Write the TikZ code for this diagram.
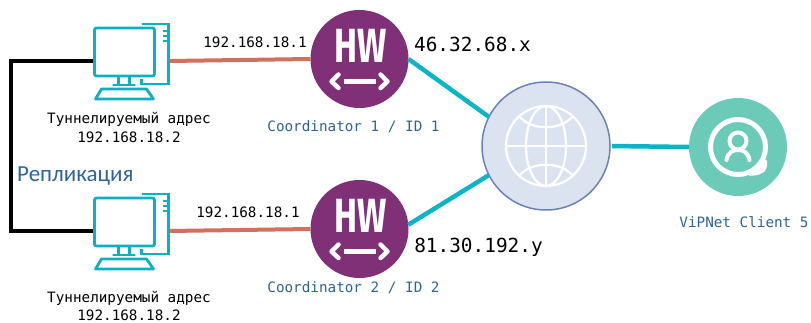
\documentclass[tikz,border=0pt]{standalone}
\usepackage{fontspec}
\setmainfont{DejaVu Sans Mono}
\newfontfamily\rplfont{Carlito}
\newfontfamily\hwfont[Scale=1]{Fira Sans}
\definecolor{hwpurple}{HTML}{7F3076}
\definecolor{redline}{HTML}{D0705F}
\definecolor{tealline}{HTML}{0BB4C6}
\definecolor{pcteal}{HTML}{0CB0BE}
\definecolor{globefill}{HTML}{DCE3F0}
\definecolor{globeedge}{HTML}{6A82B8}
\definecolor{clientgreen}{HTML}{6CCBB8}
\definecolor{bluetext}{HTML}{2F6496}
\tikzset{
  lbl/.style={anchor=base,inner sep=0pt,font=\fontsize{14.3}{16}\selectfont,text=black},
  lblblue/.style={lbl,text=bluetext},
  biglbl/.style={anchor=base,inner sep=0pt,font=\fontsize{19.4}{22}\selectfont,text=black},
  pcbox/.style={rectangle,minimum width=75pt,minimum height=75pt,inner sep=0pt,outer sep=0pt},
  hwnode/.style={circle,fill=hwpurple,minimum size=98pt,inner sep=0pt,outer sep=0pt},
  pcline/.style={pcteal,line width=2.8pt},
  redl/.style={redline,line width=4pt},
  teall/.style={tealline,line width=4.5pt},
  blackl/.style={black,line width=4pt},
  whitel/.style={white,line width=2.2pt},
  pc/.pic={
    \draw[pcline,rounded corners=2pt] (-37,-33) rectangle (23,15);
    \draw[pcline] (10,-37) -- (37,-37) -- (37,23) -- (10,23) -- (10,18);
    \draw[pcline,line width=1.8pt] (31,-30) -- (37,-30) (31,-25) -- (37,-25) (31,-20) -- (37,-20);
    \draw[pcline] (-13,15) -- (-13,23) (-2,15) -- (-2,23);
    \draw[pcline,line cap=round] (-18,24) -- (3,24);
    \draw[pcline,line join=round] (-30,28) -- (15,28) -- (22,38) -- (-36,38) -- cycle;
  },
  hwicon/.pic={
    \node[inner sep=0pt,text=white,xscale=.72,font=\hwfont\bfseries\fontsize{48}{50}\selectfont] (-HW) at (1.5,-13) {HW};
    \draw[white,line width=5pt] (-16,22.5) -- (16,22.5);
    \draw[white,line width=4.5pt,line cap=round,line join=round] (-21,15.5) -- (-28,22.5) -- (-21,29) (21,15.5) -- (28,22.5) -- (21,29);
  }
}
\begin{document}
\begin{tikzpicture}[x=1pt,y=-1pt]
\useasboundingbox (0,0) rectangle (811,323);
% nodes
\node[pcbox] (pc1) at (131.5,61) {};
\node[pcbox] (pc2) at (131.5,231) {};
\node[hwnode] (hw1) at (359.5,59) {};
\node[hwnode] (hw2) at (359.5,229) {};
\node[circle,fill=globefill,draw=globeedge,line width=1.5pt,minimum size=128pt,inner sep=0pt,outer sep=0pt] (globe) at (546,146) {};
\node[circle,fill=clientgreen,minimum size=98pt,inner sep=0pt,outer sep=0pt] (client) at (738,147) {};
\coordinate (rt) at (11,61);
\coordinate (rb) at (11,231);
% connectors
\draw[blackl,line join=miter] (pc1.west) -- (rt) -- (rb) -- (pc2.west);
\draw[redl] (pc1.east) -- (hw1.west);
\draw[redl] (pc2.east) -- (hw2.west);
\draw[teall] (hw1.east) -- (globe.153);
\draw[teall] (hw2.5) -- (globe.207);
\draw[teall,shorten <=2pt] (globe.east) -- (client.west);
% icons
\pic at (pc1.center) {pc};
\pic at (pc2.center) {pc};
\pic (a) at (hw1.center) {hwicon};
\pic (b) at (hw2.center) {hwicon};
% globe
\begin{scope}[shift={(globe.center)}]
  \draw[whitel] (0,0) circle[radius=40];
  \draw[whitel] (0,0) ellipse[x radius=20,y radius=40];
  \draw[whitel] (0,-40) -- (0,40) (-40,0) -- (40,0);
  \draw[whitel] (-27,-30) .. controls (-15,-15) and (15,-15) .. (27,-30);
  \draw[whitel] (-27,30) .. controls (-15,15) and (15,15) .. (27,30);
\end{scope}
% client icon
\begin{scope}[shift={(client.center)}]
  \draw[white,line width=5pt] (0,0) circle[radius=27.5];
  \fill[white] (10,24) .. controls (18,22) and (23,17) .. (24,10) -- (29,14) .. controls (29.5,20) and (28,25) .. (24,26) .. controls (20,28.5) and (16,29) .. (11,28.5) -- cycle;
  \draw[white,line width=4pt] (0,-6) circle[radius=8.5];
  \draw[white,line width=4pt,line cap=round] (-11.5,13) .. controls (-10,5) and (-5,3) .. (0,3) .. controls (5,3) and (10,5) .. (11.5,13);
\end{scope}
% labels
\node[lbl] (ip1) at (255,48) {192.168.18.1};
\node[lbl] (ip2) at (248,218) {192.168.18.1};
\node[lbl] (t1) at (129,124) {Туннелируемый адрес};
\node[lbl] (t2) at (129,143) {192.168.18.2};
\node[lbl] (t3) at (129,302) {Туннелируемый адрес};
\node[lbl] (t4) at (129,320) {192.168.18.2};
\node[lblblue] (c1) at (353.5,132) {Coordinator 1 / ID 1};
\node[lblblue] (c2) at (353.5,292) {Coordinator 2 / ID 2};
\node[lblblue] (vc) at (744,228) {ViPNet Client 5};
\node[biglbl] (ext1) at (472.5,52) {46.32.68.x};
\node[biglbl] (ext2) at (478.5,252) {81.30.192.y};
\node[anchor=base west,inner sep=0pt,text=bluetext,font=\rplfont\fontsize{23}{26}\selectfont] (rpl) at (17,182) {Репликация};
\end{tikzpicture}
\end{document}
